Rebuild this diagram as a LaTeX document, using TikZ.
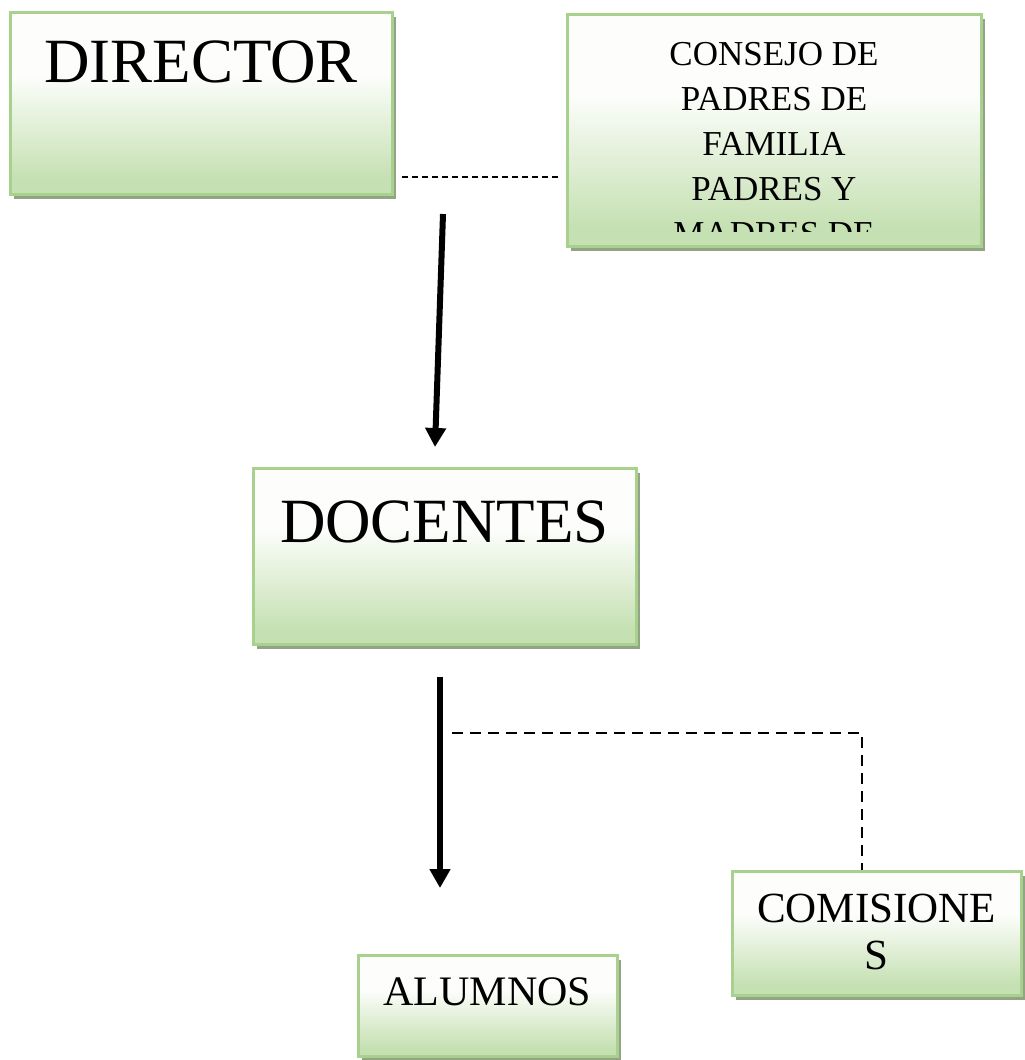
\documentclass[tikz,border=0pt]{standalone}
\usepackage{fontspec}
\setmainfont{Liberation Serif}
\usetikzlibrary{arrows.meta,shadows}
\definecolor{boxborder}{RGB}{168,209,141}
\definecolor{boxshadow}{RGB}{148,162,134}
\definecolor{boxtop}{RGB}{253,254,252}
\definecolor{boxbottom}{RGB}{197,224,178}
% path runs from 25bp (bottom) to 75bp (top)
\pgfdeclareverticalshading{boxgrad}{100bp}{color(0bp)=(boxbottom); color(29bp)=(boxbottom); color(58bp)=(boxtop); color(100bp)=(boxtop)}
\begin{document}
\begin{tikzpicture}[x=1pt, y=-1pt,
    orgbox/.style={draw=boxborder, line width=3pt, rectangle, shading=boxgrad, inner sep=0pt, general shadow={fill=boxshadow, shadow xshift=4pt, shadow yshift=-5pt}},
    boxtext/.style={anchor=base, inner sep=0pt, align=center, text=black},
    mainarrow/.style={line width=6pt, -{Triangle[width=20pt,length=19pt]}},
    shortdash/.style={line width=2pt, dash pattern=on 6pt off 4pt},
    linkdash/.style={line width=2.5pt, dash pattern=on 11pt off 7pt}]
\useasboundingbox (0,0) rectangle (1025,1060);
% boxes
\node[orgbox, minimum width=382pt, minimum height=182pt] (director) at (201,103) {};
\node[orgbox, minimum width=414pt, minimum height=232pt] (consejo) at (774,130) {};
\node[orgbox, minimum width=383pt, minimum height=176pt] (docentes) at (444.5,556) {};
\node[orgbox, minimum width=259pt, minimum height=101pt] (alumnos) at (487.5,1005.5) {};
\node[orgbox, minimum width=289pt, minimum height=124pt] (comisiones) at (876.5,933) {};
% texts (base = last line)
\node[boxtext, font=\fontsize{63}{75}\selectfont] (directortxt) at ([yshift=-72pt]director.north) {DIRECTOR};
\node[boxtext, font=\fontsize{63}{75}\selectfont] (docentestxt) at ([yshift=-75.5pt]docentes.north) {DOCENTES};
\node[boxtext, font=\fontsize{42}{48}\selectfont] (alumnostxt) at ([yshift=-51.5pt]alumnos.north) {ALUMNOS};
\node[boxtext, font=\fontsize{43}{47}\selectfont] (comisionestxt) at ([yshift=-99.5pt]comisiones.north) {COMISIONE\\S};
\begin{scope}
  \clip (consejo.north west) rectangle ([yshift=16pt]consejo.south east);
  \node[boxtext, font=\fontsize{35}{45}\selectfont] (consejotxt) at ([yshift=-232.5pt]consejo.north) {CONSEJO DE\\PADRES DE\\FAMILIA\\PADRES Y\\MADRES DE};
\end{scope}
% connectors
\coordinate (dashA) at (402,177);
\draw[shortdash, shorten >=5pt] (dashA) -- (dashA -| consejo.west);
\coordinate (arrAtop) at (443,214);
\coordinate (arrAtip) at (435,447);
\draw[mainarrow] (arrAtop) -- (arrAtip);
\coordinate (arrBtop) at (440,677);
\coordinate (arrBtip) at (440,888);
\draw[mainarrow] (arrBtop) -- (arrBtip);
\coordinate (dashB) at (452,733);
\coordinate (dashBcorner) at (862,733);
\draw[linkdash] (dashB) -- (dashBcorner) -- (dashBcorner |- comisiones.north);
\end{tikzpicture}
\end{document}
